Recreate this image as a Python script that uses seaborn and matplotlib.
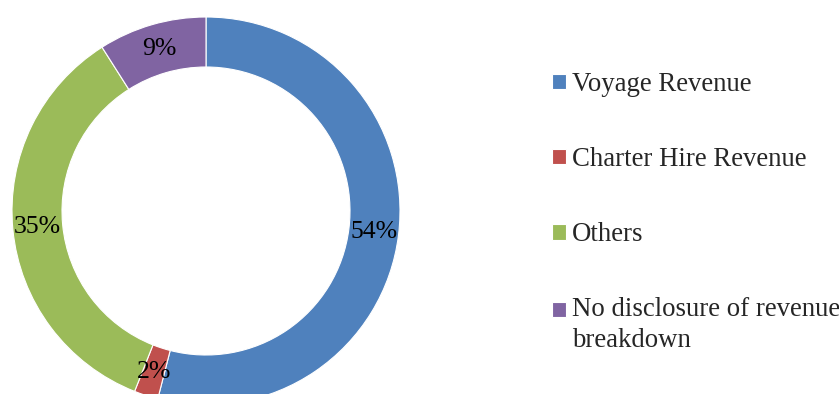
import seaborn as sns
import matplotlib
matplotlib.use("Agg")
import matplotlib.pyplot as plt
from matplotlib.patches import Rectangle
from matplotlib.legend_handler import HandlerPatch

sns.set_theme(style="white")
plt.rcParams['font.family'] = ['Liberation Serif', 'DejaVu Serif']

categories = ["Voyage Revenue", "Charter Hire Revenue", "Others",
              "No disclosure of revenue\nbreakdown"]
shares = [54, 2, 35, 9]
colors = ["#4F81BD", "#C0504D", "#9BBB59", "#8064A2"]

fig = plt.figure(figsize=(8.39, 3.94), dpi=100)
# pie centre at (206, 211) px from top-left, radius 194 px
ax = fig.add_axes([12 / 839, (394 - 405) / 394, 388 / 839, 388 / 394])

wedges, _, autotexts = ax.pie(
    shares, colors=colors, startangle=90, counterclock=False,
    autopct='%.0f%%', pctdistance=0.871,
    wedgeprops=dict(width=50 / 194, edgecolor='white', linewidth=0.8),
    textprops=dict(fontsize=18.5, color='black'))
ax.set_xlim(-1, 1)
ax.set_ylim(-1, 1)
ax.set_aspect('auto')


def square(legend, orig_handle, xdescent, ydescent, width, height, fontsize):
    return Rectangle((-xdescent, -ydescent), width, height)


def square_top(legend, orig_handle, xdescent, ydescent, width, height, fontsize):
    # put the marker next to the first line of a two-line label
    return Rectangle((-xdescent, -ydescent + 11.5), width, height)


hmap = {w: HandlerPatch(patch_func=square) for w in wedges[:3]}
hmap[wedges[3]] = HandlerPatch(patch_func=square_top)

leg = fig.legend(wedges, categories, loc='upper left', handler_map=hmap,
                 bbox_to_anchor=(552 / 839, 1 - 72 / 394),
                 frameon=False, fontsize=19.3, handlelength=0.52, handleheight=0.52,
                 handletextpad=0.22, labelspacing=1.87, borderpad=0, borderaxespad=0)
for t in leg.get_texts():
    t.set_linespacing(1.32)

fig.savefig("out.png", dpi=100)
